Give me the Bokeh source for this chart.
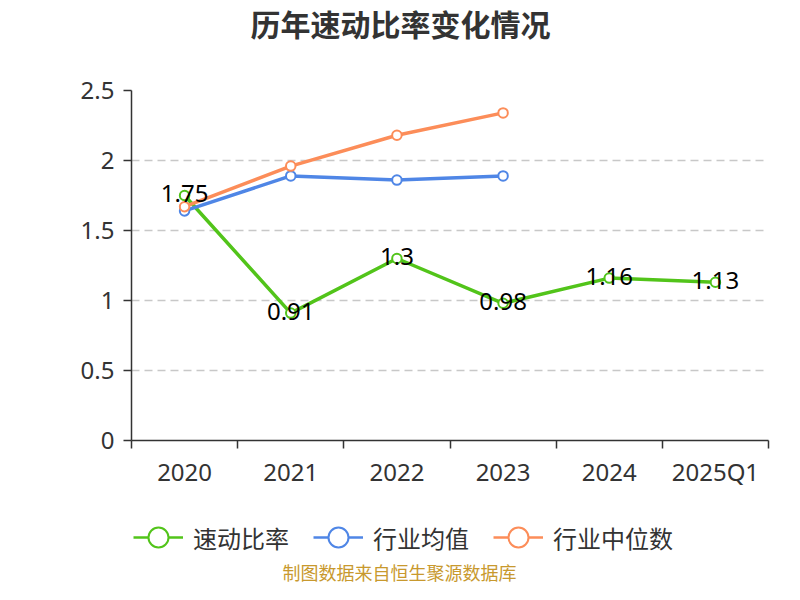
from bokeh.plotting import figure
from bokeh.layouts import column
from bokeh.models import (Range1d, FixedTicker, NumeralTickFormatter, ColumnDataSource,
                          LabelSet, Label, Legend, LegendItem)
from bokeh.core.properties import value
from bokeh.embed import file_html
from bokeh.resources import INLINE

categories = ["2020", "2021", "2022", "2023", "2024", "2025Q1"]
quick_ratio = [1.75, 0.91, 1.3, 0.98, 1.16, 1.13]
industry_mean = [1.64, 1.89, 1.86, 1.89]
industry_median = [1.67, 1.96, 2.18, 2.34]
y_ticks = [0, 0.5, 1, 1.5, 2, 2.5]
series_names = ["速动比率", "行业均值", "行业中位数"]
colors = ["#52c41a", "#4f86e6", "#fc8d59"]
title_text = "历年速动比率变化情况"
source_text = "制图数据来自恒生聚源数据库"

CJK = "Noto Sans CJK SC"
NUM = "Noto Sans"

xpos = [i + 0.5 for i in range(len(categories))]

# ---------------- main chart ----------------
p = figure(width=784, height=500, output_backend="svg", toolbar_location=None,
           x_range=Range1d(0, len(categories)), y_range=Range1d(y_ticks[0], y_ticks[-1]),
           min_border_left=131, min_border_right=16, min_border_top=90, min_border_bottom=60)
p.outline_line_color = None
p.background_fill_color = "white"
p.border_fill_color = "white"

xa = p.xaxis[0]
xa.ticker = FixedTicker(ticks=xpos, minor_ticks=list(range(len(categories) + 1)))
xa.major_label_overrides = {x: c for x, c in zip(xpos, categories)}
xa.major_tick_line_color = None
xa.major_tick_in = 0
xa.major_tick_out = 8
xa.minor_tick_in = 0
xa.minor_tick_out = 8
xa.minor_tick_line_color = "#333333"
xa.minor_tick_line_width = 1.5
xa.axis_line_color = "#333333"
xa.axis_line_width = 1.5
xa.major_label_standoff = 6
xa.major_label_text_font = NUM
xa.major_label_text_font_size = "24px"
xa.major_label_text_color = "#333333"

ya = p.yaxis[0]
ya.ticker = FixedTicker(ticks=y_ticks)
ya.formatter = NumeralTickFormatter(format="0.[0]")
ya.minor_tick_line_color = None
ya.major_tick_in = 0
ya.major_tick_out = 8
ya.major_tick_line_color = "#333333"
ya.major_tick_line_width = 1.5
ya.axis_line_color = "#333333"
ya.axis_line_width = 1.5
ya.major_label_standoff = 9
ya.major_label_text_font = NUM
ya.major_label_text_font_size = "24px"
ya.major_label_text_color = "#333333"

p.xgrid.visible = False
p.ygrid.ticker = ya.ticker
p.ygrid.grid_line_color = "#c8c8c8"
p.ygrid.grid_line_dash = "8 5"
p.ygrid.grid_line_width = 1.5

for vals, color in zip([quick_ratio, industry_mean, industry_median], colors):
    src = ColumnDataSource(dict(x=xpos[:len(vals)], y=vals))
    p.line("x", "y", source=src, line_color=color, line_width=3.5)
    p.scatter("x", "y", source=src, marker="circle", size=9.5, fill_color="white",
              line_color=color, line_width=2)

lab_src = ColumnDataSource(dict(x=xpos, y=quick_ratio, t=[str(v) for v in quick_ratio]))
p.add_layout(LabelSet(x="x", y="y", text="t", source=lab_src, text_align="center",
                      text_baseline="middle", y_offset=2, text_font=value(NUM),
                      text_font_size="24px", text_color="black"))

p.add_layout(Label(x=400, y=22, x_units="canvas", y_units="canvas", text=title_text,
                   text_align="center", text_baseline="middle", text_font=CJK,
                   text_font_size="30px", text_font_style="bold", text_color="#333333"),
             "above")

# ---------------- legend + source strip ----------------
q = figure(width=784, height=84, output_backend="svg", toolbar_location=None,
           x_range=Range1d(0, 1), y_range=Range1d(0, 1),
           x_axis_location=None, y_axis_location=None,
           min_border=0, min_border_left=0, min_border_right=0,
           min_border_top=0, min_border_bottom=0)
q.outline_line_color = None
q.grid.visible = False
q.background_fill_color = "white"
q.border_fill_color = "white"

nan = float("nan")
items = []
for color, name in zip(colors, series_names):
    rl = q.line([nan], [nan], line_color=color, line_width=2.5)
    rp = q.scatter([nan], [nan], marker="circle", fill_color="white", line_color=color,
                   line_width=2)
    items.append(LegendItem(label=name, renderers=[rl, rp]))

legend = Legend(items=items, orientation="horizontal", location=(2, 22),
                glyph_width=50, glyph_height=50, label_standoff=10, spacing=24,
                padding=0, margin=0, border_line_color=None, background_fill_alpha=0,
                label_text_font=CJK, label_text_font_size="24px", label_text_color="#333333")
q.add_layout(legend)

q.add_layout(Label(x=399, y=71, x_units="canvas", y_units="canvas", text=source_text,
                   text_align="center", text_baseline="middle", text_font=CJK,
                   text_font_size="18px", text_color="#c8992e"))

layout = column(p, q, spacing=0)
open("out.html", "w").write(file_html(layout, INLINE))
